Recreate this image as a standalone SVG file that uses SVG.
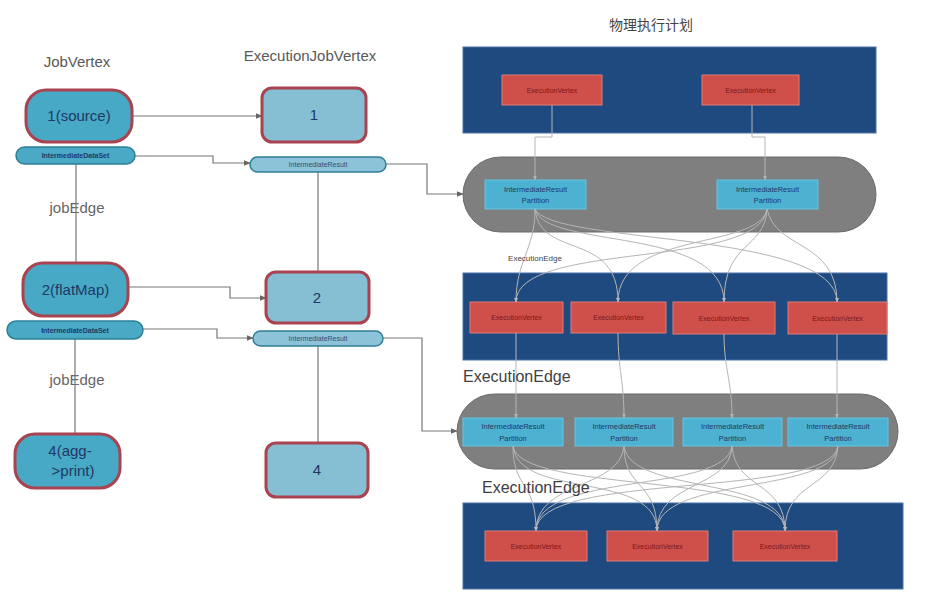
<svg xmlns="http://www.w3.org/2000/svg" width="929" height="603" viewBox="0 0 929 603">
<defs>
<style>
.ttl{font-family:"Liberation Sans",Arial,sans-serif;font-size:15px;fill:#595959;text-anchor:middle}
.lbl{font-family:"Liberation Sans",Arial,sans-serif;font-size:15px;fill:#666;text-anchor:middle}
.big{font-family:"Liberation Sans",Arial,sans-serif;font-size:16px;fill:#404040}
.jv{fill:#47a9c5;stroke:#a8434f;stroke-width:3}
.ejv{fill:#86bfd4;stroke:#a8434f;stroke-width:3}
.ntx{font-family:"Liberation Sans",Arial,sans-serif;font-size:15px;fill:#1f3864;text-anchor:middle}
.pill{fill:#4aaac6;stroke:#2e7f95;stroke-width:1.5}
.pill2{fill:#8cc3d8;stroke:#2e7f95;stroke-width:1.5}
.ptx{font-family:"Liberation Sans",Arial,sans-serif;font-size:7px;font-weight:bold;fill:#1f3864;text-anchor:middle}
.ptx2{font-family:"Liberation Sans",Arial,sans-serif;font-size:7px;fill:#2f4f7a;text-anchor:middle}
.blue{fill:#1e4a80;stroke:#4a72a8;stroke-width:1}
.gray{fill:#7f7f7f;stroke:#6a6a6a;stroke-width:1}
.ev{fill:#cf4f4b;stroke:#e07d74;stroke-width:1}
.evt{font-family:"Liberation Sans",Arial,sans-serif;font-size:7px;fill:#7a1a1a;text-anchor:middle}
.irp{fill:#4db2d2;stroke:#66c3e0;stroke-width:1}
.irt{font-family:"Liberation Sans",Arial,sans-serif;font-size:7.5px;fill:#1f3864;text-anchor:middle}
.c{fill:none;stroke:#777;stroke-width:1.2}
.cv{fill:none;stroke:#b5b5b5;stroke-width:1}
</style>
<marker id="ah" viewBox="0 0 10 10" refX="9" refY="5" markerWidth="6" markerHeight="6" orient="auto">
<path d="M0,1 L10,5 L0,9 z" fill="#666"/>
</marker>
<marker id="ah2" viewBox="0 0 10 10" refX="9" refY="5" markerWidth="5" markerHeight="5" orient="auto">
<path d="M0,1 L10,5 L0,9 z" fill="#b5b5b5"/>
</marker>
</defs>
<rect width="929" height="603" fill="#ffffff"/>

<g id="titles">
<text class="ttl" x="77" y="67">JobVertex</text>
<text class="ttl" x="310" y="61">ExecutionJobVertex</text>
<text class="ttl" x="651" y="30" style="font-family:'Noto Sans CJK SC',sans-serif;font-size:14px;fill:#444">物理执行计划</text>
<text class="lbl" x="77" y="213">jobEdge</text>
<text class="lbl" x="77" y="385">jobEdge</text>
</g>

<g id="containers">
<rect id="ev-layer-1" class="blue" x="463" y="47" width="413" height="86"/>
<rect id="irp-layer-1" class="gray" x="463" y="157" width="413" height="75" rx="37.5"/>
<rect id="ev-layer-2" class="blue" x="463" y="273" width="424" height="87"/>
<rect id="irp-layer-2" class="gray" x="457" y="394" width="441" height="75" rx="37.5"/>
<rect id="ev-layer-3" class="blue" x="463" y="503" width="440" height="86"/>
</g>

<g id="connectors">
<path class="c" d="M132,116 H262" marker-end="url(#ah)"/>
<path class="c" d="M135,156 H213 V163 H250" marker-end="url(#ah)"/>
<path class="c" d="M386,164 H427 V194 H463" marker-end="url(#ah)"/>
<path class="c" d="M76,164 V263"/>
<path class="c" d="M318,172 V272"/>
<path class="c" d="M128,287 H230 V298 H266" marker-end="url(#ah)"/>
<path class="c" d="M143,329 H217 V338 H253" marker-end="url(#ah)"/>
<path class="c" d="M383,338 H422 V431 H457" marker-end="url(#ah)"/>
<path class="c" d="M75,339 V434"/>
<path class="c" d="M318,346 V443"/>
<path class="cv" d="M552,105 V137 H535 V180" marker-end="url(#ah2)"/>
<path class="cv" d="M752,105 V137 H765 V180" marker-end="url(#ah2)"/>
<path class="cv" d="M535,209 C535,250 516,260 516,302" marker-end="url(#ah2)"/>
<path class="cv" d="M535,209 C540,260 618,230 618,302" marker-end="url(#ah2)"/>
<path class="cv" d="M535,209 C545,250 724,225 724,302" marker-end="url(#ah2)"/>
<path class="cv" d="M535,209 C550,245 837,230 837,302" marker-end="url(#ah2)"/>
<path class="cv" d="M767,209 C760,270 516,240 516,302" marker-end="url(#ah2)"/>
<path class="cv" d="M767,209 C760,250 618,230 618,302" marker-end="url(#ah2)"/>
<path class="cv" d="M767,209 C765,250 724,240 724,302" marker-end="url(#ah2)"/>
<path class="cv" d="M767,209 C775,250 837,240 837,302" marker-end="url(#ah2)"/>
<path class="cv" d="M516,333 V418" marker-end="url(#ah2)"/>
<path class="cv" d="M618,333 C618,370 624,380 624,418" marker-end="url(#ah2)"/>
<path class="cv" d="M724,333 C724,370 732,380 732,418" marker-end="url(#ah2)"/>
<path class="cv" d="M837,333 V418" marker-end="url(#ah2)"/>
<path class="cv" d="M513,446 C513,490 536,480 536,531" marker-end="url(#ah2)"/>
<path class="cv" d="M513,446 C518,500 657,470 657,531" marker-end="url(#ah2)"/>
<path class="cv" d="M513,446 C520,495 785,470 785,531" marker-end="url(#ah2)"/>
<path class="cv" d="M624,446 C620,490 536,480 536,531" marker-end="url(#ah2)"/>
<path class="cv" d="M624,446 C624,490 657,480 657,531" marker-end="url(#ah2)"/>
<path class="cv" d="M624,446 C630,495 785,475 785,531" marker-end="url(#ah2)"/>
<path class="cv" d="M732,446 C725,495 536,470 536,531" marker-end="url(#ah2)"/>
<path class="cv" d="M732,446 C730,490 657,480 657,531" marker-end="url(#ah2)"/>
<path class="cv" d="M732,446 C735,490 785,480 785,531" marker-end="url(#ah2)"/>
<path class="cv" d="M838,446 C830,500 536,470 536,531" marker-end="url(#ah2)"/>
<path class="cv" d="M838,446 C835,495 657,475 657,531" marker-end="url(#ah2)"/>
<path class="cv" d="M838,446 C835,490 785,480 785,531" marker-end="url(#ah2)"/>
</g>

<g id="edge-labels">
<text x="535" y="261" style="font-family:'Liberation Sans',Arial,sans-serif;font-size:8px;fill:#444;text-anchor:middle">ExecutionEdge</text>
<text class="big" x="463" y="382">ExecutionEdge</text>
<text class="big" x="482" y="493">ExecutionEdge</text>
</g>

<g id="jv-1"><rect class="jv" x="26" y="90" width="106" height="52" rx="20"/><text class="ntx" x="79" y="121">1(source)</text></g>
<g id="ds-1"><rect class="pill" x="16" y="147" width="119" height="17" rx="8.5"/><text class="ptx" x="75.5" y="158">IntermediateDataSet</text></g>
<g id="jv-2"><rect class="jv" x="23" y="263" width="105" height="53" rx="20"/><text class="ntx" x="75.5" y="295">2(flatMap)</text></g>
<g id="ds-2"><rect class="pill" x="7" y="321" width="136" height="18" rx="9"/><text class="ptx" x="75" y="332.5">IntermediateDataSet</text></g>
<g id="jv-4"><rect class="jv" x="15" y="434" width="105" height="54" rx="20"/><text class="ntx" x="70" y="456">4(agg-</text><text class="ntx" x="73" y="476">&gt;print)</text></g>

<g id="ejv-1"><rect class="ejv" x="262" y="88" width="104" height="54" rx="10"/><text class="ntx" x="314" y="120">1</text></g>
<g id="ir-1"><rect class="pill2" x="250" y="157" width="136" height="15" rx="7.5"/><text class="ptx2" x="318" y="167">IntermediateResult</text></g>
<g id="ejv-2"><rect class="ejv" x="266" y="272" width="103" height="51" rx="10"/><text class="ntx" x="317" y="303">2</text></g>
<g id="ir-2"><rect class="pill2" x="253" y="331" width="130" height="15" rx="7.5"/><text class="ptx2" x="318" y="341">IntermediateResult</text></g>
<g id="ejv-4"><rect class="ejv" x="266" y="443" width="102" height="54" rx="10"/><text class="ntx" x="317" y="475">4</text></g>

<g id="ev-1-1"><rect class="ev" x="502" y="75" width="100" height="30"/><text class="evt" x="552" y="92.5">ExecutionVertex</text></g>
<g id="ev-1-2"><rect class="ev" x="702" y="75" width="97" height="30"/><text class="evt" x="750.5" y="92.5">ExecutionVertex</text></g>

<g id="irp-1-1"><rect class="irp" x="485" y="180" width="101" height="29"/><text class="irt" x="535.5" y="191.5">IntermediateResult</text><text class="irt" x="535.5" y="203">Partition</text></g>
<g id="irp-1-2"><rect class="irp" x="717" y="180" width="101" height="29"/><text class="irt" x="767.5" y="191.5">IntermediateResult</text><text class="irt" x="767.5" y="203">Partition</text></g>

<g id="ev-2-1"><rect class="ev" x="470" y="302" width="93" height="31"/><text class="evt" x="516.5" y="320">ExecutionVertex</text></g>
<g id="ev-2-2"><rect class="ev" x="571" y="302" width="95" height="31"/><text class="evt" x="618.5" y="320">ExecutionVertex</text></g>
<g id="ev-2-3"><rect class="ev" x="673" y="302" width="102" height="32"/><text class="evt" x="724" y="320.5">ExecutionVertex</text></g>
<g id="ev-2-4"><rect class="ev" x="788" y="302" width="99" height="32"/><text class="evt" x="837.5" y="320.5">ExecutionVertex</text></g>

<g id="irp-2-1"><rect class="irp" x="463" y="418" width="100" height="28"/><text class="irt" x="513" y="429">IntermediateResult</text><text class="irt" x="513" y="440.5">Partition</text></g>
<g id="irp-2-2"><rect class="irp" x="575" y="418" width="98" height="28"/><text class="irt" x="624" y="429">IntermediateResult</text><text class="irt" x="624" y="440.5">Partition</text></g>
<g id="irp-2-3"><rect class="irp" x="683" y="418" width="99" height="28"/><text class="irt" x="732.5" y="429">IntermediateResult</text><text class="irt" x="732.5" y="440.5">Partition</text></g>
<g id="irp-2-4"><rect class="irp" x="788" y="418" width="100" height="28"/><text class="irt" x="838" y="429">IntermediateResult</text><text class="irt" x="838" y="440.5">Partition</text></g>

<g id="ev-3-1"><rect class="ev" x="485" y="531" width="102" height="30"/><text class="evt" x="536" y="548.5">ExecutionVertex</text></g>
<g id="ev-3-2"><rect class="ev" x="607" y="531" width="101" height="30"/><text class="evt" x="657.5" y="548.5">ExecutionVertex</text></g>
<g id="ev-3-3"><rect class="ev" x="733" y="531" width="104" height="30"/><text class="evt" x="785" y="548.5">ExecutionVertex</text></g>
</svg>
